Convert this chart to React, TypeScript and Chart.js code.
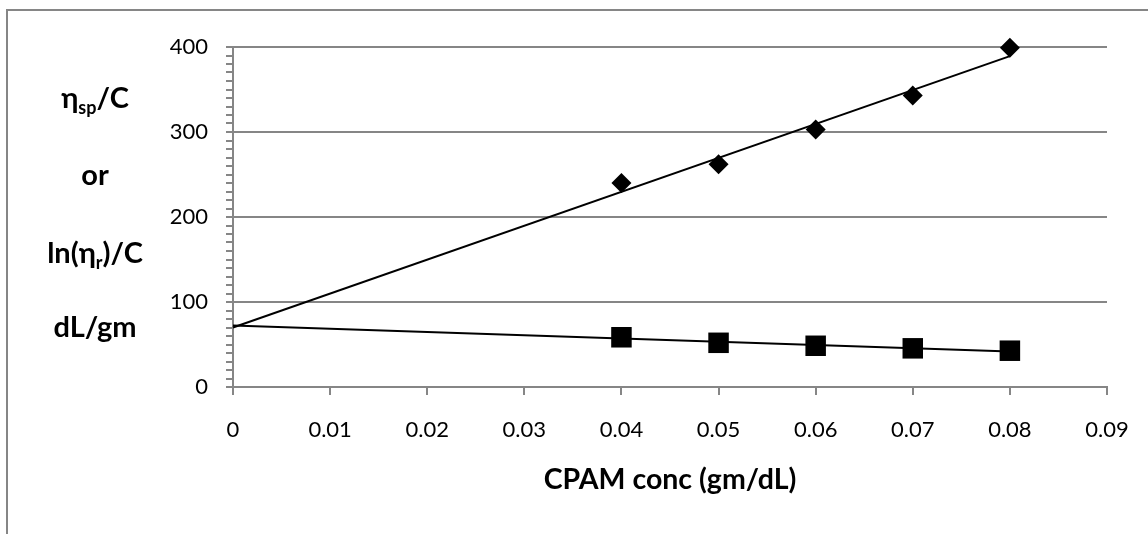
import React, { useEffect, useRef } from 'react';
import { Chart, registerables } from 'chart.js';

Chart.register(...registerables);

// ---- data ----
const concentration = [0.04, 0.05, 0.06, 0.07, 0.08];
const reducedViscosity = [240, 262, 303, 343, 399]; // ηsp/C (diamonds)
const inherentViscosity = [58.5, 52, 48.5, 45.5, 42.7]; // ln(ηr)/C (squares)
const trendStartX = 0;
const trendEndX = 0.08;
const xTitle = 'CPAM conc (gm/dL)';
const yTitleLines = [
  [{ t: 'η' }, { t: 'sp', sub: true }, { t: '/C' }],
  [{ t: 'or' }],
  [{ t: 'ln(η' }, { t: 'r', sub: true }, { t: ')/C' }],
  [{ t: 'dL/gm' }],
];

const FONT = 'Lato, "Open Sans", "DejaVu Sans", sans-serif';
const GRAY = '#868686';

function linearFit(xs: number[], ys: number[]) {
  const n = xs.length;
  const mx = xs.reduce((a, b) => a + b, 0) / n;
  const my = ys.reduce((a, b) => a + b, 0) / n;
  let sxy = 0;
  let sxx = 0;
  for (let i = 0; i < n; i++) {
    sxy += (xs[i] - mx) * (ys[i] - my);
    sxx += (xs[i] - mx) * (xs[i] - mx);
  }
  const m = sxy / sxx;
  return { m, b: my - m * mx };
}

function trendPoints(xs: number[], ys: number[]) {
  const { m, b } = linearFit(xs, ys);
  return [
    { x: trendStartX, y: b + m * trendStartX },
    { x: trendEndX, y: b + m * trendEndX },
  ];
}

const frameAndTitlePlugin = {
  id: 'frameAndTitle',
  beforeDraw(chart: any) {
    const { ctx, width, height } = chart;
    ctx.save();
    ctx.strokeStyle = GRAY;
    ctx.lineWidth = 2;
    ctx.strokeRect(7, 10, width + 20, height + 20);
    ctx.restore();
  },
  afterDraw(chart: any) {
    const { ctx } = chart;
    const cx = 95;
    const baselines = [108, 185, 263, 337];
    const size = 29;
    const subSize = 18;
    ctx.save();
    ctx.fillStyle = '#000';
    ctx.textBaseline = 'alphabetic';
    ctx.textAlign = 'left';
    yTitleLines.forEach((segs, i) => {
      let total = 0;
      const widths = segs.map((s: any) => {
        ctx.font = `bold ${s.sub ? subSize : size}px ${FONT}`;
        const w = ctx.measureText(s.t).width;
        total += w;
        return w;
      });
      let x = cx - total / 2;
      segs.forEach((s: any, j: number) => {
        ctx.font = `bold ${s.sub ? subSize : size}px ${FONT}`;
        ctx.fillText(s.t, x, baselines[i] + (s.sub ? 6 : 0));
        x += widths[j];
      });
    });
    ctx.restore();
  },
};

export default function App() {
  const ref = useRef<HTMLCanvasElement | null>(null);

  useEffect(() => {
    if (!ref.current) return;
    const diamonds = concentration.map((x, i) => ({ x, y: reducedViscosity[i] }));
    const squares = concentration.map((x, i) => ({ x, y: inherentViscosity[i] }));

    const chart = new Chart(ref.current, {
      type: 'scatter',
      data: {
        datasets: [
          {
            label: 'ηsp/C',
            data: diamonds,
            pointStyle: 'rectRot',
            pointRadius: 10,
            backgroundColor: '#000',
            borderColor: '#000',
            borderWidth: 0,
            showLine: false,
            order: 0,
            clip: false,
          },
          {
            label: 'ln(ηr)/C',
            data: squares,
            pointStyle: 'rect',
            pointRadius: 14.5,
            backgroundColor: '#000',
            borderColor: '#000',
            borderWidth: 0,
            showLine: false,
            order: 0,
            clip: false,
          },
          {
            label: 'trend ηsp/C',
            data: trendPoints(concentration, reducedViscosity),
            showLine: true,
            pointRadius: 0,
            borderColor: '#000',
            borderWidth: 2,
            order: 1,
            clip: false,
          },
          {
            label: 'trend ln(ηr)/C',
            data: trendPoints(concentration, inherentViscosity),
            showLine: true,
            pointRadius: 0,
            borderColor: '#000',
            borderWidth: 2,
            order: 1,
            clip: false,
          },
        ],
      },
      options: {
        animation: false,
        responsive: false,
        events: [],
        layout: { autoPadding: false, padding: { left: 0, top: 47, right: 41, bottom: 0 } },
        plugins: {
          legend: { display: false },
          tooltip: { enabled: false },
          title: { display: false },
        },
        scales: {
          x: {
            type: 'linear',
            min: 0,
            max: 0.09,
            afterFit: (scale: any) => {
              scale.height = 147;
              scale.paddingLeft = 0;
              scale.paddingRight = 0;
            },
            ticks: {
              stepSize: 0.01,
              autoSkip: false,
              maxRotation: 0,
              padding: 22,
              color: '#000',
              font: { family: FONT, size: 22 },
              callback: (v: any) => String(Number(Number(v).toFixed(2))),
            },
            grid: {
              drawOnChartArea: false,
              color: GRAY,
              tickColor: GRAY,
              tickLength: 8,
              lineWidth: 2,
            },
            border: { color: GRAY, width: 2 },
            title: {
              display: true,
              text: xTitle,
              color: '#000',
              font: { family: FONT, size: 28.5, weight: 'bold' },
              padding: { top: 0, bottom: 37 },
            },
          },
          y: {
            type: 'linear',
            min: 0,
            max: 400,
            afterFit: (scale: any) => {
              scale.width = 233;
            },
            ticks: {
              stepSize: 10,
              autoSkip: false,
              padding: 18,
              color: '#000',
              font: { family: FONT, size: 22 },
              callback: (v: any) => (Number(v) % 100 === 0 ? String(v) : ''),
            },
            grid: {
              color: (c: any) => (c.tick && c.tick.value % 100 === 0 ? GRAY : 'rgba(0,0,0,0)'),
              tickColor: GRAY,
              tickLength: 7,
              lineWidth: 2,
            },
            border: { color: GRAY, width: 2 },
          },
        },
      },
      plugins: [frameAndTitlePlugin],
    });
    return () => chart.destroy();
  }, []);

  return (
    <div style={{ position: 'fixed', left: 0, top: 0, width: 1148, height: 534, background: '#fff' }}>
      <canvas ref={ref} width={1148} height={534} style={{ display: 'block' }} />
    </div>
  );
}
